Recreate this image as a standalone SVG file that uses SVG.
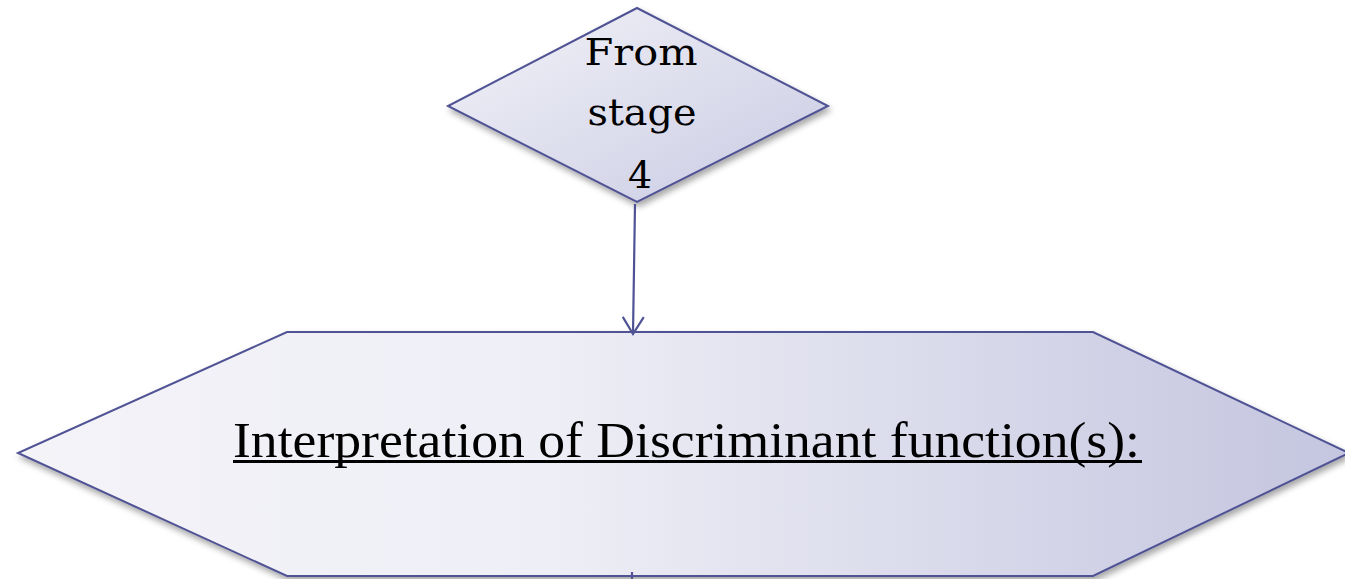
<svg xmlns="http://www.w3.org/2000/svg" width="1345" height="579" viewBox="0 0 1345 579">
  <defs>
    <linearGradient id="gDiamond" x1="0" y1="0" x2="1" y2="1">
      <stop offset="0" stop-color="#f3f3f9"/>
      <stop offset="1" stop-color="#c9cae2"/>
    </linearGradient>
    <linearGradient id="gHex" x1="0" y1="0" x2="1" y2="0">
      <stop offset="0" stop-color="#f3f3f8"/>
      <stop offset="0.4" stop-color="#eeeef6"/>
      <stop offset="1" stop-color="#c4c5df"/>
    </linearGradient>
    <filter id="shadow" x="-10%" y="-10%" width="120%" height="130%">
      <feDropShadow dx="2" dy="4" stdDeviation="3" flood-color="#000" flood-opacity="0.35"/>
    </filter>
    <marker id="vArrow" markerUnits="userSpaceOnUse" markerWidth="30" markerHeight="30" refX="20" refY="15" orient="auto">
      <path d="M3,4.5 L20,15 L3,25.5" fill="none" stroke="#4f5294" stroke-width="2.2"/>
    </marker>
    <style>
      .shape { stroke: #4f5294; stroke-width: 2; stroke-linejoin: miter; filter: url(#shadow); }
      .label { font-family: "Liberation Serif", "DejaVu Serif", serif; fill: #000; }
      .dlabel { font-family: "DejaVu Serif", "Liberation Serif", serif; fill: #000; font-size: 38px; }
      .conn { stroke: #4f5294; stroke-width: 2.2; fill: none; }
    </style>
  </defs>

  <g id="node-from-stage-4">
    <polygon class="shape" fill="url(#gDiamond)" points="637,8 828,106 637,202 448,106"/>
    <text class="dlabel" x="641" y="65" text-anchor="middle" textLength="113" lengthAdjust="spacingAndGlyphs">From</text>
    <text class="dlabel" x="642" y="125" text-anchor="middle" textLength="109" lengthAdjust="spacingAndGlyphs">stage</text>
    <text class="dlabel" x="640" y="188" text-anchor="middle">4</text>
  </g>

  <g id="node-interpretation">
    <polygon class="shape" fill="url(#gHex)" points="287,332 1093,332 1349,453 1093,576 287,576 18,453"/>
    <text class="label" font-size="51" x="233" y="457" textLength="907" lengthAdjust="spacingAndGlyphs">Interpretation of Discriminant function(s):</text>
    <line x1="233" y1="461.5" x2="1142" y2="461.5" stroke="#000" stroke-width="3"/>
  </g>

  <g id="connectors">
    <line class="conn" x1="635" y1="204" x2="633" y2="334" marker-end="url(#vArrow)"/>
    <line class="conn" x1="632" y1="572" x2="632" y2="579"/>
  </g>
</svg>
